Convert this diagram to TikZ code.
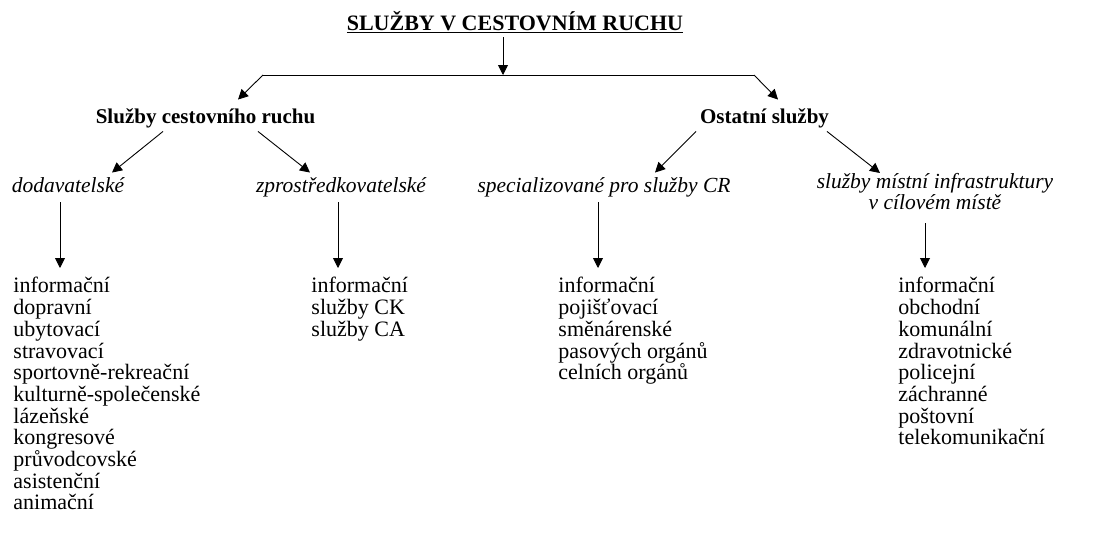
\documentclass[tikz,border=0pt]{standalone}
\usepackage{fontspec}
\setmainfont{Liberation Serif}
\usetikzlibrary{arrows.meta}
\begin{document}
\begin{tikzpicture}[x=1pt,y=-1pt,line width=0.9pt,
    arr/.style={-{Triangle[length=10pt,width=10pt]}},
    toptitle/.style={font=\fontsize{22}{26}\selectfont\bfseries,inner sep=0pt,text depth=7pt,anchor=base},
    sector/.style={font=\fontsize{21}{25}\selectfont\bfseries,inner sep=0pt,text height=23pt,text depth=8pt,anchor=base},
    kind/.style={font=\fontsize{21.5}{21}\selectfont\itshape,inner sep=0pt,text height=19pt,text depth=10pt,anchor=base},
    kindtwo/.style={font=\fontsize{21.5}{21}\selectfont\itshape,inner sep=0pt,align=center,anchor=north},
    items/.style={font=\fontsize{22}{21.7}\selectfont,inner xsep=0pt,inner ysep=9pt,align=left,anchor=north west}]
    \useasboundingbox (0,0) rectangle (1098,538);

    \node[toptitle] (top) at (515,30) {\underline{SLUŽBY V CESTOVNÍM RUCHU}};

    \node[sector] (scr) at (205.5,123) {Služby cestovního ruchu};
    \node[sector] (os) at (764.5,123) {Ostatní služby};

    \node[kind] (dod) at (68,192) {dodavatelské};
    \node[kind] (zpr) at (341,192) {zprostředkovatelské};
    \node[kind] (spc) at (604,192) {specializované pro služby CR};
    \node[kindtwo] (smi) at (935,173) {služby místní infrastruktury\\v cílovém místě};

    \node[items] (l1) at (13,268) {informační\\dopravní\\ubytovací\\stravovací\\sportovně-rekreační\\kulturně-společenské\\lázeňské\\kongresové\\průvodcovské\\asistenční\\animační};
    \node[items] (l2) at (311,268) {informační\\služby CK\\služby CA};
    \node[items] (l3) at (558,268) {informační\\pojišťovací\\směnárenské\\pasových orgánů\\celních orgánů};
    \node[items] (l4) at (898,268) {informační\\obchodní\\komunální\\zdravotnické\\policejní\\záchranné\\poštovní\\telekomunikační};

    % rozdeleni
    \coordinate (hl) at (263,75);
    \coordinate (hr) at (754,75);
    \coordinate (split) at (503,75);
    \draw[arr] (top.south -| split) -- (split);
    \draw (hl) -- (hr);
    \draw[arr] (hl) -- ([xshift=32.5pt]scr.north);
    \draw[arr] (hr) -- ([xshift=13.5pt]os.north);

    \draw[arr] ([xshift=-42.5pt]scr.south) -- ([xshift=44pt]dod.north);
    \draw[arr] ([xshift=52.5pt]scr.south) -- ([xshift=-31pt]zpr.north);
    \draw[arr] ([xshift=-68.5pt]os.south) -- ([xshift=51pt]spc.north);
    \draw[arr] ([xshift=62.5pt]os.south) -- ([xshift=-55pt]smi.north);

    % seznamy
    \coordinate (d1) at ([xshift=-8pt]dod.south);
    \coordinate (d2) at ([xshift=-3pt]zpr.south);
    \coordinate (d3) at ([xshift=-6pt]spc.south);
    \coordinate (d4) at ([xshift=-10pt]smi.south);
    \draw[arr] (d1) -- (d1 |- l1.north);
    \draw[arr] (d2) -- (d2 |- l2.north);
    \draw[arr] (d3) -- (d3 |- l3.north);
    \draw[arr,shorten <=13pt] (d4) -- (d4 |- l4.north);
\end{tikzpicture}
\end{document}
